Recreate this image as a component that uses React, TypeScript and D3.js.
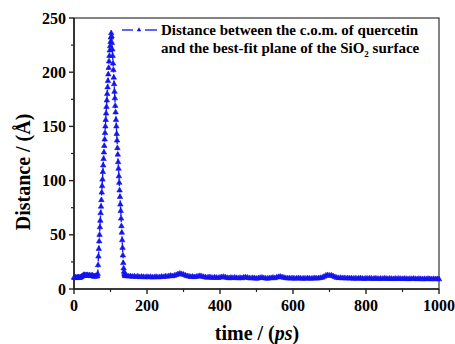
import React, { useRef, useEffect } from 'react';
import * as d3 from 'd3';

// time grid of each segment (ps)
const preTimes = d3.range(0, 65, 2);
const peakTimes = d3.range(65, 143, 1);
const tailTimes = d3.range(145, 1001, 5);

// distance (Å)
const preValues = [
  10.5, 10.2, 10.8, 10.4, 10.1, 10.6, 10.9, 10.5, 10.3, 10.8, 11.2, 11.6, 12.0, 12.8, 13.1, 12.6, 12.2,
  12.5, 12.9, 12.4, 12.1, 12.6, 12.3, 11.9, 12.2, 12.5, 12.0, 11.6, 11.4, 11.8, 12.1, 11.5, 12.0,
];
const peakValues = [
  14, 22, 30, 37, 44, 50, 57, 63, 70, 76, 82, 89, 95, 101, 108, 114, 120, 126, 132, 138,
  144, 150, 156, 162, 168, 174, 180, 186, 192, 198, 204, 210, 215, 220, 224, 228, 232, 236,
  233, 227, 221, 215, 208, 202, 195, 189, 182, 176, 169, 163, 156, 150, 143, 137, 130, 124,
  117, 111, 104, 98, 91, 85, 78, 72, 65, 58, 52, 45, 38, 31, 24, 19, 16, 14, 13, 12, 12, 12,
];
const tailValues = [
  12.0, 11.6, 11.8, 11.3, 11.6, 11.2, 11.5, 11.0, 11.3, 11.1, 10.8, 11.2, 10.9, 11.1, 10.7, 10.9, 11.2, 10.8, 11.0, 11.3,
  11.1, 11.6, 11.4, 11.9, 12.2, 11.8, 12.4, 12.9, 13.6, 14.2, 13.8, 13.2, 12.5, 11.9, 11.6, 11.2, 11.4, 11.0, 11.3, 11.7,
  12.0, 11.6, 11.1, 10.8, 10.5, 10.9, 10.6, 10.3, 10.7, 10.4, 10.2, 10.6, 10.9, 11.2, 10.7, 10.3, 10.0, 10.4, 10.1, 10.5,
  10.2, 9.9, 10.3, 10.0, 10.6, 10.8, 10.4, 10.1, 9.8, 10.2, 9.9, 9.6, 9.9, 10.2, 10.5, 10.1, 9.8, 9.6, 9.9, 10.1,
  10.4, 10.0, 10.6, 11.1, 11.4, 10.9, 10.4, 10.1, 9.8, 10.0, 9.7, 9.9, 9.6, 9.8, 10.0, 9.7, 9.5, 9.8, 9.6, 9.9,
  9.7, 9.5, 9.8, 10.0, 9.7, 9.9, 10.2, 10.5, 11.3, 12.4, 12.8, 12.3, 12.6, 11.8, 11.0, 10.4, 10.1, 10.3, 9.9, 10.1,
  9.8, 10.0, 9.7, 9.9, 9.6, 9.8, 9.5, 9.7, 9.9, 9.6, 9.4, 9.7, 9.5, 9.8, 9.6, 9.4, 9.7, 9.5, 9.3, 9.6,
  9.4, 9.7, 9.5, 9.3, 9.6, 9.4, 9.2, 9.5, 9.3, 9.6, 9.4, 9.2, 9.5, 9.3, 9.1, 9.4, 9.2, 9.5, 9.3, 9.1,
  9.4, 9.2, 9.0, 9.3, 9.1, 9.4, 9.2, 9.0, 9.3, 9.1, 9.2, 9.0,
];

const xTicks = [0, 200, 400, 600, 800, 1000];
const yTicks = [0, 50, 100, 150, 200, 250];

const App: React.FC = () => {
  const svgRef = useRef<SVGSVGElement | null>(null);

  useEffect(() => {
    if (!svgRef.current) return;
    const width = 455;
    const height = 344;
    const font = '"Liberation Serif", "Times New Roman", serif';
    const blue = '#1414ee';

    const data = [
      ...preTimes.map((t, i) => ({ t, v: preValues[i] })),
      ...peakTimes.map((t, i) => ({ t, v: peakValues[i] })),
      ...tailTimes.map((t, i) => ({ t, v: tailValues[i] })),
    ].filter(d => d.v !== undefined);

    const x = d3.scaleLinear().domain([0, 1000]).range([74, 439]);
    const y = d3.scaleLinear().domain([0, 250]).range([289, 18]);

    const svg = d3.select(svgRef.current);
    svg.selectAll('*').remove();
    svg.attr('width', width).attr('height', height);

    // frame
    svg.append('rect')
      .attr('x', x(0)).attr('y', y(250))
      .attr('width', x(1000) - x(0)).attr('height', y(0) - y(250))
      .attr('fill', 'none').attr('stroke', '#333').attr('stroke-width', 1.2);

    // x axis
    const xAxis = svg.append('g').attr('transform', `translate(0,${y(0)})`);
    xAxis.append('line').attr('x1', x(0)).attr('x2', x(1000)).attr('stroke', '#222').attr('stroke-width', 1.6);
    d3.range(100, 1000, 200).forEach(v => {
      xAxis.append('line').attr('x1', x(v)).attr('x2', x(v)).attr('y1', 0).attr('y2', 3).attr('stroke', '#222').attr('stroke-width', 1.2);
    });
    xTicks.forEach(v => {
      xAxis.append('line').attr('x1', x(v)).attr('x2', x(v)).attr('y1', 0).attr('y2', 5).attr('stroke', '#222').attr('stroke-width', 1.4);
      xAxis.append('text').attr('x', x(v)).attr('y', 22)
        .attr('text-anchor', 'middle').attr('font-family', font).attr('font-weight', 'bold').attr('font-size', 16)
        .text(v);
    });

    // y axis
    const yAxis = svg.append('g').attr('transform', `translate(${x(0)},0)`);
    yAxis.append('line').attr('y1', y(0)).attr('y2', y(250)).attr('stroke', '#222').attr('stroke-width', 1.6);
    d3.range(25, 250, 50).forEach(v => {
      yAxis.append('line').attr('y1', y(v)).attr('y2', y(v)).attr('x1', 0).attr('x2', -3).attr('stroke', '#222').attr('stroke-width', 1.2);
    });
    yTicks.forEach(v => {
      yAxis.append('line').attr('y1', y(v)).attr('y2', y(v)).attr('x1', 0).attr('x2', -5).attr('stroke', '#222').attr('stroke-width', 1.4);
      yAxis.append('text').attr('x', -8).attr('y', y(v)).attr('dy', '0.35em')
        .attr('text-anchor', 'end').attr('font-family', font).attr('font-weight', 'bold').attr('font-size', 16)
        .text(v);
    });

    // axis titles
    const xt = svg.append('text').attr('x', 257).attr('y', 340)
      .attr('text-anchor', 'middle').attr('font-family', font).attr('font-weight', 'bold').attr('font-size', 20);
    xt.append('tspan').text('time / (');
    xt.append('tspan').attr('font-style', 'italic').text('ps');
    xt.append('tspan').text(')');

    svg.append('text')
      .attr('transform', 'translate(23,172) rotate(-90)')
      .attr('dy', '0.35em')
      .attr('text-anchor', 'middle').attr('font-family', font).attr('font-weight', 'bold').attr('font-size', 20)
      .text('Distance / (Å)');

    // series
    const line = d3.line<{ t: number; v: number }>().x(d => x(d.t)).y(d => y(d.v));
    svg.append('path').datum(data)
      .attr('d', line)
      .attr('fill', 'none').attr('stroke', blue).attr('stroke-width', 1.3).attr('stroke-dasharray', '4,2');

    const tri = d3.symbol().type(d3.symbolTriangle).size(13);
    svg.append('g').selectAll('path').data(data).enter().append('path')
      .attr('d', tri)
      .attr('transform', d => `translate(${x(d.t)},${y(d.v)})`)
      .attr('fill', blue).attr('stroke', blue).attr('stroke-width', 0.6);

    // legend
    const lg = svg.append('g');
    lg.append('line').attr('x1', 122).attr('x2', 133).attr('y1', 30).attr('y2', 30).attr('stroke', blue).attr('stroke-width', 1.3);
    lg.append('line').attr('x1', 145).attr('x2', 157).attr('y1', 30).attr('y2', 30).attr('stroke', blue).attr('stroke-width', 1.3);
    lg.append('path').attr('d', d3.symbol().type(d3.symbolTriangle).size(9)).attr('transform', 'translate(139,30)').attr('fill', blue);
    lg.append('text').attr('x', 161).attr('y', 35)
      .attr('font-family', font).attr('font-weight', 'bold').attr('font-size', 15)
      .text('Distance between the c.o.m. of quercetin');
    const l2 = lg.append('text').attr('x', 161).attr('y', 53)
      .attr('font-family', font).attr('font-weight', 'bold').attr('font-size', 15);
    l2.append('tspan').text('and the best-fit plane of the SiO');
    l2.append('tspan').attr('font-size', 9).attr('dy', 4).text('2');
    l2.append('tspan').attr('dy', -4).text(' surface');
  }, []);

  return (
    <div style={{ position: 'absolute', left: 0, top: 0 }}>
      <svg ref={svgRef} style={{ display: 'block', background: '#fff' }} />
    </div>
  );
};

export default App;
